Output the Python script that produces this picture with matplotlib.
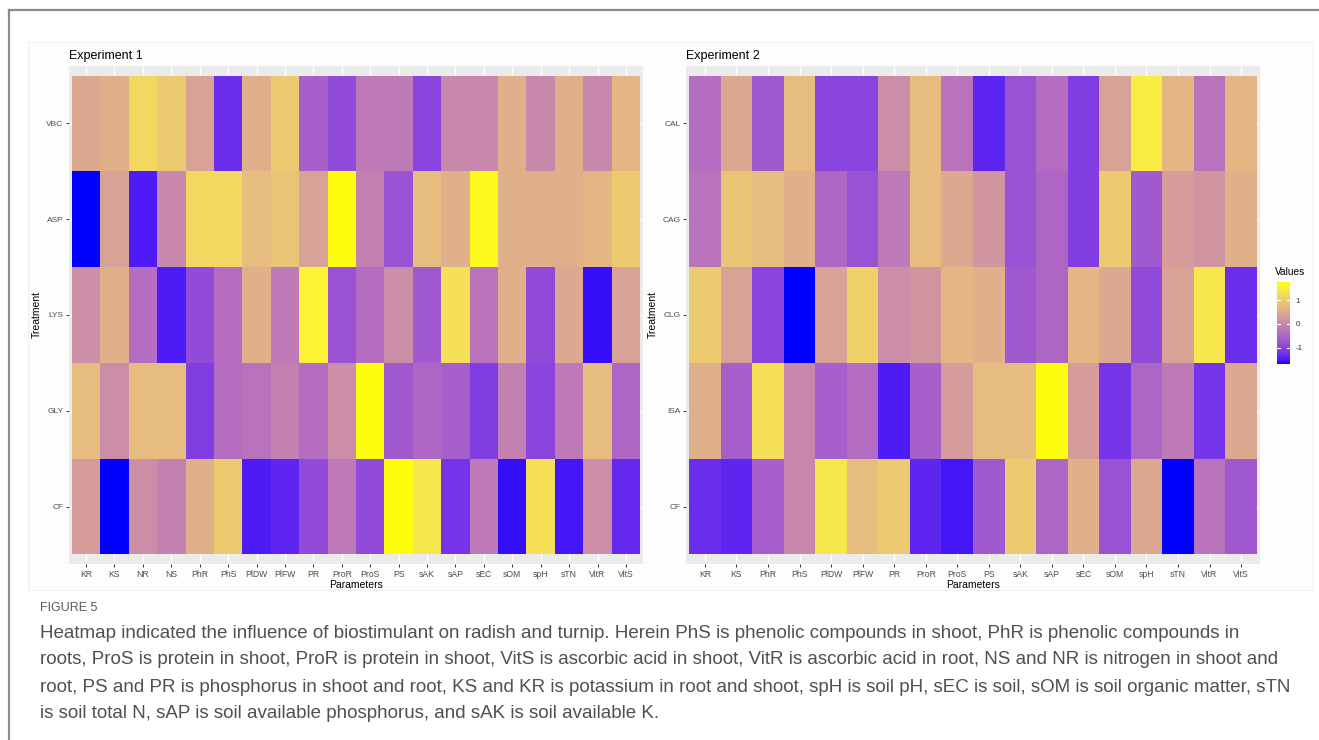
import numpy as np
import matplotlib
matplotlib.use("Agg")
import matplotlib.pyplot as plt
from matplotlib.colors import ListedColormap
from matplotlib.patches import Rectangle
from matplotlib.lines import Line2D

plt.rcParams['font.family'] = ['Liberation Sans', 'DejaVu Sans']
plt.rcParams['axes.unicode_minus'] = False

# ---- data ----
exp1_params = ['KR', 'KS', 'NR', 'NS', 'PhR', 'PhS', 'PlDW', 'PlFW', 'PR', 'ProR',
               'ProS', 'PS', 'sAK', 'sAP', 'sEC', 'sOM', 'spH', 'sTN', 'VitR', 'VitS']
exp1_treat = ['VBC', 'ASP', 'LYS', 'GLY', 'CF']
exp1_vbc = [0.5, 0.6, 1.2, 1.0, 0.4, -1.3, 0.6, 1.0, -0.6, -0.9,
            -0.2, -0.2, -1.0, 0.0, 0.0, 0.6, 0.0, 0.6, 0.0, 0.7]
exp1_asp = [-1.7, 0.4, -1.5, 0.0, 1.2, 1.2, 0.8, 0.9, 0.4, 1.75,
            -0.1, -0.8, 0.8, 0.6, 1.7, 0.6, 0.6, 0.6, 0.7, 1.0]
exp1_lys = [0.1, 0.6, -0.4, -1.5, -0.9, -0.4, 0.6, -0.2, 1.6, -0.8,
            -0.4, 0.1, -0.7, 1.3, -0.3, 0.6, -0.9, 0.5, -1.6, 0.4]
exp1_gly = [0.8, 0.1, 0.8, 0.8, -1.1, -0.4, -0.3, -0.1, -0.4, 0.1,
            1.75, -0.7, -0.5, -0.6, -1.1, -0.1, -1.0, -0.2, 0.8, -0.5]
exp1_cf = [0.3, -1.7, 0.1, -0.1, 0.6, 1.0, -1.5, -1.4, -0.9, -0.2,
           -0.9, 1.75, 1.4, -1.2, -0.2, -1.6, 1.3, -1.55, 0.1, -1.35]

exp2_params = ['KR', 'KS', 'PhR', 'PhS', 'PlDW', 'PlFW', 'PR', 'ProR', 'ProS',
               'PS', 'sAK', 'sAP', 'sEC', 'sOM', 'spH', 'sTN', 'VitR', 'VitS']
exp2_treat = ['CAL', 'CAG', 'CLG', 'ISA', 'CF']
exp2_cal = [-0.4, 0.5, -0.7, 0.8, -1.0, -1.0, 0.1, 0.8, -0.3,
            -1.4, -0.8, -0.4, -1.1, 0.4, 1.5, 0.7, -0.3, 0.7]
exp2_cag = [-0.3, 0.9, 0.8, 0.6, -0.5, -0.8, -0.2, 0.8, 0.5,
            0.2, -0.8, -0.5, -1.1, 1.0, -0.7, 0.3, 0.2, 0.6]
exp2_clg = [1.0, 0.4, -1.0, -1.7, 0.4, 1.1, 0.1, 0.2, 0.7,
            0.6, -0.7, -0.5, 0.7, 0.5, -0.9, 0.4, 1.4, -1.3]
exp2_isa = [0.6, -0.6, 1.3, 0.0, -0.6, -0.4, -1.5, -0.6, 0.3,
            0.8, 0.8, 1.75, 0.3, -1.2, -0.5, -0.2, -1.2, 0.5]
exp2_cf = [-1.3, -1.4, -0.6, 0.0, 1.4, 0.8, 1.0, -1.4, -1.55,
           -0.7, 1.0, -0.5, 0.6, -0.8, 0.5, -1.7, -0.3, -0.7]

caption_lines = [
    "Heatmap indicated the influence of biostimulant on radish and turnip. Herein PhS is phenolic compounds in shoot, PhR is phenolic compounds in",
    "roots, ProS is protein in shoot, ProR is protein in shoot, VitS is ascorbic acid in shoot, VitR is ascorbic acid in root, NS and NR is nitrogen in shoot and",
    "root, PS and PR is phosphorus in shoot and root, KS and KR is potassium in root and shoot, spH is soil pH, sEC is soil, sOM is soil organic matter, sTN",
    "is soil total N, sAP is soil available phosphorus, and sAK is soil available K.",
]

vmin, vmax = -1.7, 1.78


# ---- blue -> yellow gradient interpolated in Lab (like ggplot's scale_fill_gradient) ----
def srgb_to_lab(rgb):
    c = np.asarray(rgb, float)
    lin = np.where(c <= 0.04045, c / 12.92, ((c + 0.055) / 1.055) ** 2.4)
    m = np.array([[0.4124, 0.3576, 0.1805],
                  [0.2126, 0.7152, 0.0722],
                  [0.0193, 0.1192, 0.9505]])
    xyz = m @ lin / np.array([0.95047, 1.0, 1.08883])
    f = np.where(xyz > 0.008856, np.cbrt(xyz), 7.787 * xyz + 16 / 116)
    return np.array([116 * f[1] - 16, 500 * (f[0] - f[1]), 200 * (f[1] - f[2])])


def lab_to_srgb(lab):
    L, a, b = lab
    fy = (L + 16) / 116
    fx = fy + a / 500
    fz = fy - b / 200
    f = np.array([fx, fy, fz])
    xyz = np.where(f ** 3 > 0.008856, f ** 3, (f - 16 / 116) / 7.787)
    xyz = xyz * np.array([0.95047, 1.0, 1.08883])
    m = np.array([[3.2406, -1.5372, -0.4986],
                  [-0.9689, 1.8758, 0.0415],
                  [0.0557, -0.2040, 1.0570]])
    lin = np.clip(m @ xyz, 0, 1)
    return np.where(lin <= 0.0031308, 12.92 * lin, 1.055 * lin ** (1 / 2.4) - 0.055)


lab_lo = srgb_to_lab([0, 0, 1])
lab_hi = srgb_to_lab([1, 1, 0])
cols = [np.clip(lab_to_srgb(lab_lo + t * (lab_hi - lab_lo)), 0, 1) for t in np.linspace(0, 1, 256)]
cmap = ListedColormap(cols)

# ---- figure ----
W, H = 1319, 740
fig = plt.figure(figsize=(W / 100, H / 100), dpi=100)


def fx(px):
    return px / W


def fy(py):
    return 1 - py / H


# page frame and plot background (kept behind the axes)
fig.add_artist(Line2D([fx(9), fx(1319)], [fy(10), fy(10)], color='#8c8c8c', lw=1.6, zorder=-2))
fig.add_artist(Line2D([fx(9), fx(9)], [fy(10), fy(740)], color='#8c8c8c', lw=1.6, zorder=-2))
fig.add_artist(Rectangle((fx(28), fy(590)), fx(1313) - fx(28), fy(42) - fy(590),
                         facecolor='#fdfdfd', edgecolor='#f0f0f0', lw=0.8, zorder=-1))


def heat_panel(left_px, params, treats, rows, title):
    ax = fig.add_axes([fx(left_px), fy(564), fx(574), 498 / H])
    z = np.array(rows)
    nx, ny = len(params), len(treats)
    xe = np.arange(nx + 1) - 0.5
    ye = np.arange(ny + 1) - 0.5
    mesh = ax.pcolormesh(xe, ye, z, cmap=cmap, vmin=vmin, vmax=vmax, zorder=2)
    ax.set_xlim(-0.6, nx - 0.4)
    ax.set_ylim(ny - 0.4, -0.6)
    ax.set_facecolor('#ebebeb')
    ax.set_axisbelow(True)
    ax.grid(True, color='white', lw=1.0)
    ax.set_xticks(np.arange(nx))
    ax.set_xticklabels(params, fontsize=6.2, color='#4d4d4d')
    ax.set_yticks(np.arange(ny))
    ax.set_yticklabels(treats, fontsize=6.0, color='#4d4d4d')
    ax.tick_params(length=2.5, width=0.7, color='#333333', pad=1.5)
    for s in ax.spines.values():
        s.set_visible(False)
    ax.set_xlabel('Parameters', fontsize=7.5, color='black', labelpad=1)
    ax.set_ylabel('Treatment', fontsize=7.5, color='black', labelpad=3)
    ax.set_title(title, loc='left', fontsize=9, color='black', pad=5)
    return mesh


mesh = heat_panel(69, exp1_params, exp1_treat,
                  [exp1_vbc, exp1_asp, exp1_lys, exp1_gly, exp1_cf], 'Experiment 1')
heat_panel(686, exp2_params, exp2_treat,
           [exp2_cal, exp2_cag, exp2_clg, exp2_isa, exp2_cf], 'Experiment 2')

# legend colourbar
cax = fig.add_axes([fx(1277), fy(364), 13 / W, 82 / H])
cb = fig.colorbar(mesh, cax=cax, ticks=[-1, 0, 1])
cb.outline.set_visible(False)
cax.tick_params(length=0, labelsize=5.8, labelcolor='#333333', pad=4)
cax.set_yticklabels(['-1', '0', '1'])
for v in [-1, 0, 1]:
    cax.plot([0, 0.2], [v, v], color='white', lw=0.8)
    cax.plot([0.8, 1], [v, v], color='white', lw=0.8)
fig.text(fx(1275), fy(272), 'Values', fontsize=7.3, va='center', ha='left')

# caption
cap_font = ['Liberation Sans Narrow', 'Liberation Sans', 'DejaVu Sans']
fig.text(fx(40), fy(608), 'FIGURE 5', fontsize=9, color='#5a5a5a', va='center', family=cap_font)
for i, line in enumerate(caption_lines):
    fig.text(fx(40), fy(633 + 27 * i), line, fontsize=13.5, color='#505050', va='center',
             family=cap_font)

fig.savefig('out.png', dpi=100, facecolor='white')
